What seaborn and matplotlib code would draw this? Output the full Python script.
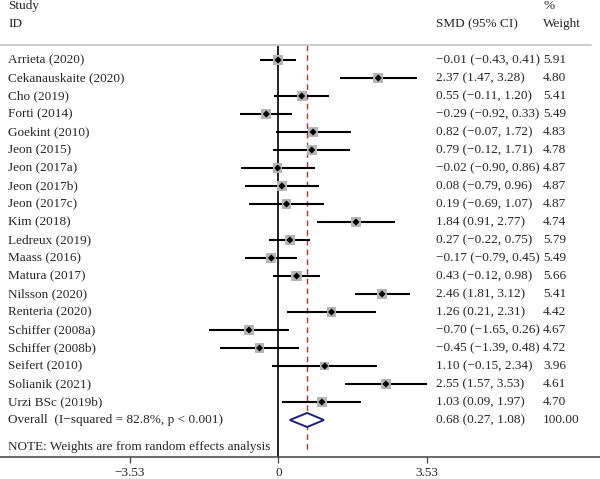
import numpy as np
import matplotlib.pyplot as plt
import matplotlib.transforms as mtransforms
import pandas as pd
import seaborn as sns

# Study data
studies = ['Arrieta (2020)', 'Cekanauskaite (2020)', 'Cho (2019)', 'Forti (2014)',
           'Goekint (2010)', 'Jeon (2015)', 'Jeon (2017a)', 'Jeon (2017b)',
           'Jeon (2017c)', 'Kim (2018)', 'Ledreux (2019)', 'Maass (2016)',
           'Matura (2017)', 'Nilsson (2020)', 'Renteria (2020)', 'Schiffer (2008a)',
           'Schiffer (2008b)', 'Seifert (2010)', 'Solianik (2021)', 'Urzi BSc (2019b)']
smd = [-0.01, 2.37, 0.55, -0.29, 0.82, 0.79, -0.02, 0.08, 0.19, 1.84,
       0.27, -0.17, 0.43, 2.46, 1.26, -0.70, -0.45, 1.10, 2.55, 1.03]
ci_low = [-0.43, 1.47, -0.11, -0.92, -0.07, -0.12, -0.90, -0.79, -0.69, 0.91,
          -0.22, -0.79, -0.12, 1.81, 0.21, -1.65, -1.39, -0.15, 1.57, 0.09]
ci_high = [0.41, 3.28, 1.20, 0.33, 1.72, 1.71, 0.86, 0.96, 1.07, 2.77,
           0.75, 0.45, 0.98, 3.12, 2.31, 0.26, 0.48, 2.34, 3.53, 1.97]
weight = [5.91, 4.80, 5.41, 5.49, 4.83, 4.78, 4.87, 4.87, 4.87, 4.74,
          5.79, 5.49, 5.66, 5.41, 4.42, 4.67, 4.72, 3.96, 4.61, 4.70]

overall_smd, overall_low, overall_high = 0.68, 0.27, 1.08
overall_label = 'Overall  (I\u2212squared = 82.8%, p < 0.001)'
note = 'NOTE: Weights are from random effects analysis'
xticks = [-3.53, 0, 3.53]

df = pd.DataFrame({'study': studies, 'smd': smd, 'low': ci_low,
                   'high': ci_high, 'weight': weight})
df['row'] = np.arange(len(df))

def fmt(v):
    return f'{v:.2f}'.replace('-', '\u2212')

sns.set_theme(style='white')
plt.rcParams['font.family'] = ['Liberation Serif', 'DejaVu Serif']
fs = 9.5

fig = plt.figure(figsize=(6, 4.79), dpi=100)
ax = fig.add_axes([0, 22 / 479, 1, 457 / 479])
ax.set_xlim(-6.615, 7.637)
ax.set_ylim(22.056, -3.333)

# confidence intervals
ax.hlines(df['row'], df['low'], df['high'], color='black', lw=1.5, zorder=2)
# weight boxes
sns.scatterplot(data=df, x='smd', y='row', size='weight', sizes=(3.96 * 10, 5.91 * 10),
                size_norm=(3.96, 5.91), marker='s', color='#b5b5b5', edgecolor='none',
                legend=False, ax=ax, zorder=3)
sns.scatterplot(data=df, x='smd', y='row', marker='D', s=13, color='black',
                edgecolor='none', legend=False, ax=ax, zorder=4)

n = len(df)
# null line and overall effect line
ax.vlines(0, -0.833, 22.056, color='black', lw=1.2, zorder=1)
ax.vlines(overall_smd, -0.833, 21.8, color='#b5302a', lw=1.0, linestyles=(0, (4, 3)), zorder=1)

# overall diamond
dx = [overall_low, overall_smd, overall_high, overall_smd, overall_low]
dy = [n, n - 0.39, n, n + 0.39, n]
ax.fill(dx, dy, facecolor='white', edgecolor='#1f1f80', lw=1.4, zorder=5)

# header separator
trans = mtransforms.blended_transform_factory(ax.transAxes, ax.transData)
ax.plot([0, 0.985], [-0.833, -0.833], color='#c8c8c8', lw=1.3, transform=trans, clip_on=False)

# text columns
x_study, x_ci, x_w = 8 / 600, 436 / 600, 543 / 600
ax.text(x_study, -3.0, 'Study', transform=trans, fontsize=fs, va='center')
ax.text(x_study, -2.0, 'ID', transform=trans, fontsize=fs, va='center')
ax.text(x_ci, -2.0, 'SMD (95% CI)', transform=trans, fontsize=fs, va='center')
ax.text(x_w, -3.0, '%', transform=trans, fontsize=fs, va='center')
ax.text(x_w, -2.0, 'Weight', transform=trans, fontsize=fs, va='center')

for _, r in df.iterrows():
    ax.text(x_study, r['row'], r['study'], transform=trans, fontsize=fs, va='center')
    ax.text(x_ci, r['row'], f"{fmt(r['smd'])} ({fmt(r['low'])}, {fmt(r['high'])})",
            transform=trans, fontsize=fs, va='center')
    ax.text(x_w, r['row'], f"{r['weight']:.2f}", transform=trans, fontsize=fs, va='center')

ax.text(x_study, n, overall_label, transform=trans, fontsize=fs, va='center')
ax.text(x_ci, n, f'{fmt(overall_smd)} ({fmt(overall_low)}, {fmt(overall_high)})',
        transform=trans, fontsize=fs, va='center')
ax.text(x_w, n, '100.00', transform=trans, fontsize=fs, va='center')
ax.text(x_study, n + 1.5, note, transform=trans, fontsize=fs, va='center')

# axis
for s in ['top', 'left', 'right']:
    ax.spines[s].set_visible(False)
ax.spines['bottom'].set_color('#404040')
ax.spines['bottom'].set_linewidth(1.1)
ax.set_yticks([])
ax.set_xticks(xticks)
ax.set_xticklabels([fmt(t) if t != 0 else '0' for t in xticks])
ax.tick_params(axis='x', direction='out', length=4.5, width=0.9, pad=2.5,
               labelsize=fs, bottom=True, color='#404040')
ax.set_xlabel('')
ax.set_ylabel('')

fig.savefig('out.png', dpi=100)
